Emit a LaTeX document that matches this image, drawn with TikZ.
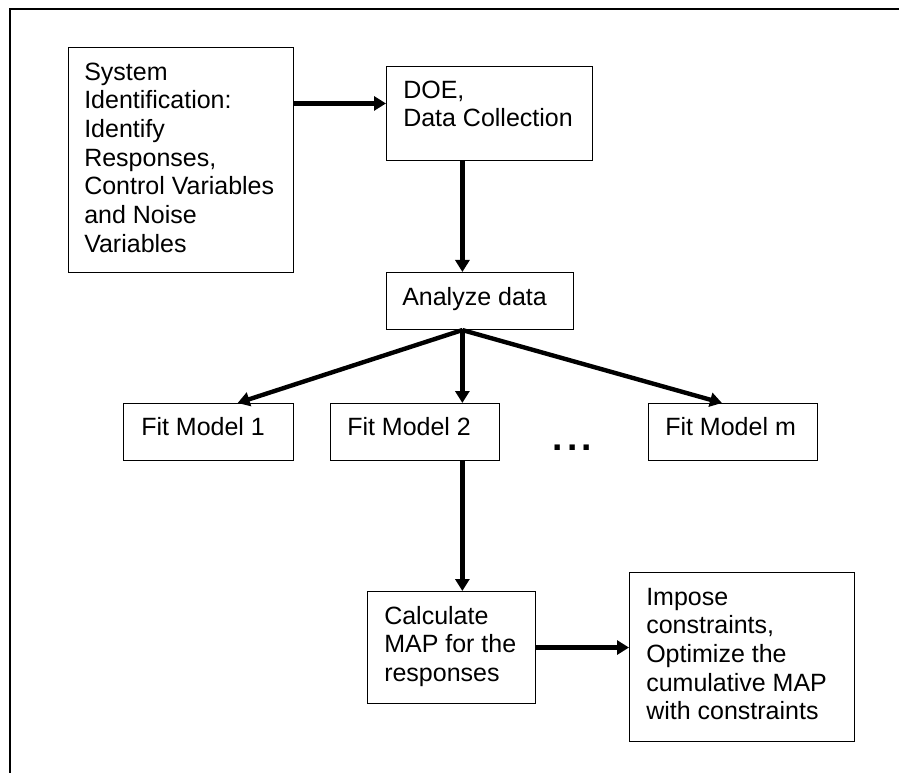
\documentclass[tikz,border=0pt]{standalone}
\usepackage{fontspec}
\setmainfont{Liberation Sans}
\usetikzlibrary{arrows.meta,calc}
\begin{document}
\begin{tikzpicture}[x=0.75pt,y=-0.75pt,
  box/.style={draw, line width=0.8pt, inner sep=0pt, anchor=north west},
  txt/.style={anchor=north west, inner sep=0pt, align=left,
    font=\fontsize{18.75pt}{21.5pt}\selectfont},
  arr/.style={line width=3.3pt, -{Triangle[length=9pt,width=10.5pt]}}]
\useasboundingbox (0,0) rectangle (899,773);

% page frame (top and left edges)
\draw[line width=1pt] (10,773) -- (10,9) -- (899,9);

% boxes
\node[box, minimum width={225*0.75pt}, minimum height={225*0.75pt}] (sys)  at (68,47)  {};
\node[box, minimum width={206*0.75pt}, minimum height={94*0.75pt}]  (doe)  at (386,66)  {};
\node[box, minimum width={187*0.75pt}, minimum height={57*0.75pt}]  (ana)  at (386,272) {};
\node[box, minimum width={170*0.75pt}, minimum height={57*0.75pt}]  (fm1)  at (123,403) {};
\node[box, minimum width={169*0.75pt}, minimum height={57*0.75pt}]  (fm2)  at (330,403) {};
\node[box, minimum width={169*0.75pt}, minimum height={57*0.75pt}]  (fmm)  at (648,403) {};
\node[box, minimum width={168*0.75pt}, minimum height={112*0.75pt}] (calc) at (367,591) {};
\node[box, minimum width={225*0.75pt}, minimum height={169*0.75pt}] (imp)  at (629,572) {};

% box texts
\node[txt] (sysT) at (84,60) {\rule{0pt}{15pt}System\\Identification:\\Identify\\Responses,\\Control Variables\\and Noise\\Variables};
\node[txt] (doeT) at (403,78) {\rule{0pt}{15pt}DOE,\\Data Collection};
\node[txt] (anaT) at (402,285) {\rule{0pt}{15pt}Analyze data};
\node[txt] (fm1T) at (141,415) {\rule{0pt}{15pt}Fit Model 1};
\node[txt] (fm2T) at (347,415) {\rule{0pt}{15pt}Fit Model 2};
\node[txt] (fmmT) at (665,415) {\rule{0pt}{15pt}Fit Model m};
\node[txt] (calcT) at (384,604) {\rule{0pt}{15pt}Calculate\\MAP for the\\responses};
\node[txt] (impT) at (646,585) {\rule{0pt}{15pt}Impose\\constraints,\\Optimize the\\cumulative MAP\\with constraints};

% ellipsis between the model boxes
\node[anchor=base west, inner sep=0pt, font=\fontsize{28pt}{30pt}\selectfont\bfseries] (dots)
  at (552.5,450) {.\hspace{3.1pt}.\hspace{3.1pt}.};

% connectors
\coordinate (doeIn)  at ($(doe.north west)!0.394!(doe.south west)$);
\coordinate (doeOut) at ($(doe.south west)!0.369!(doe.south east)$);
\coordinate (fork)   at ($(ana.south west)!0.406!(ana.south east)$);
\coordinate (fm1In)  at ($(fm1.north west)!0.67!(fm1.north east)$);
\coordinate (fmmIn)  at ($(fmm.north west)!0.435!(fmm.north east)$);

\draw[arr] (sys.east |- doeIn) -- (doeIn);
\draw[arr] (doeOut) -- (doeOut |- ana.north);
\draw[arr] (fork) -- (fm1In);
\draw[arr] (fork) -- (fork |- fm2.north);
\draw[arr] (fork) -- (fmmIn);
\draw[arr] (fork |- fm2.south) -- (fork |- calc.north);
\draw[arr] (calc.east) -- (calc.east -| imp.west);
\end{tikzpicture}
\end{document}
